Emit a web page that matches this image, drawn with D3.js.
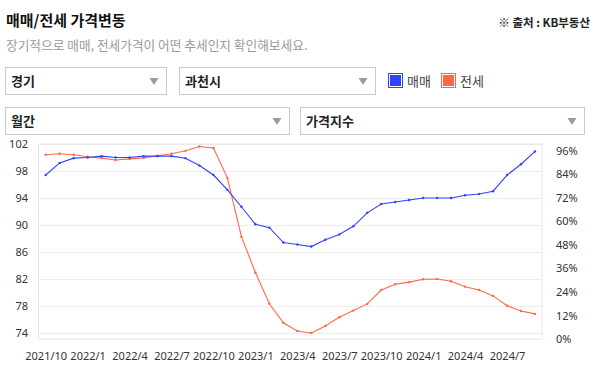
<!DOCTYPE html>
<html>
<head>
<meta charset="utf-8">
<script src="https://cdn.jsdelivr.net/npm/d3@7"></script>
<style>
  body { margin: 0; background: #fff; }
  svg { display: block; font-family: "Noto Sans CJK KR", "Noto Sans", sans-serif; }
</style>
</head>
<body>
<div id="chart-area"></div>
<script>
// months on the x axis (monthly index, 2021/10 ~ 2024/9)
const months = ["2021/10","2021/11","2021/12","2022/1","2022/2","2022/3","2022/4","2022/5","2022/6",
  "2022/7","2022/8","2022/9","2022/10","2022/11","2022/12","2023/1","2023/2","2023/3","2023/4",
  "2023/5","2023/6","2023/7","2023/8","2023/9","2023/10","2023/11","2023/12","2024/1","2024/2",
  "2024/3","2024/4","2024/5","2024/6","2024/7","2024/8","2024/9"];
const tickLabels = ["2021/10","2022/1","2022/4","2022/7","2022/10","2023/1","2023/4","2023/7",
  "2023/10","2024/1","2024/4","2024/7"];

// 매매 (left axis)
const saleIndex = [97.4, 99.2, 99.9, 100.0, 100.2, 100.0, 100.0, 100.2, 100.2, 100.2, 99.9, 98.8,
  97.4, 95.2, 92.7, 90.1, 89.6, 87.4, 87.1, 86.8, 87.8, 88.6, 89.8, 91.8, 93.1, 93.4, 93.7,
  94.0, 94.0, 94.0, 94.4, 94.6, 95.0, 97.4, 99.0, 100.9];
// 전세 (right axis)
const jeonseIndex = [94.0, 94.5, 94.0, 93.0, 92.3, 91.3, 91.9, 92.4, 93.5, 94.5, 96.0, 98.2,
  97.5, 82.1, 52.2, 33.9, 18.0, 8.3, 4.1, 3.1, 6.6, 11.1, 14.5, 17.9, 25.0, 27.9, 29.0,
  30.5, 30.6, 29.5, 26.7, 25.0, 22.0, 17.0, 14.3, 12.8];

const leftTicks = [74, 78, 82, 86, 90, 94, 98, 102];
const rightTicks = [0, 12, 24, 36, 48, 60, 72, 84, 96];

const filters1 = ["경기", "과천시"];
const filters2 = ["월간", "가격지수"];
const legendNames = ["매매", "전세"];

const blue = '#2f42ff';
const orange = '#ff6845';
const fontColor = '#333';

const svg = d3.select("#chart-area").append("svg")
  .attr("width", 599)
  .attr("height", 369);

// header
svg.append("text").attr("x", 6).attr("y", 26)
  .attr("font-size", 15).attr("font-weight", "bold").attr("fill", "#111")
  .text("매매/전세 가격변동");
svg.append("text").attr("x", 6).attr("y", 50)
  .attr("font-size", 12.7).attr("fill", "#9a9a9a")
  .text("장기적으로 매매, 전세가격이 어떤 추세인지 확인해보세요.");
svg.append("text").attr("x", 590).attr("y", 27).attr("text-anchor", "end")
  .attr("font-size", 11.5).attr("font-weight", "bold").attr("fill", "#222")
  .text("※ 출처 : KB부동산");

// dropdowns
function dropdown(x, y, w, label) {
  const g = svg.append("g").attr("transform", `translate(${x},${y})`);
  g.append("rect").attr("x", 0.5).attr("y", 0.5).attr("width", w).attr("height", 27)
    .attr("fill", "#fff").attr("stroke", "#c9c9d1");
  g.append("text").attr("x", 6).attr("y", 19)
    .attr("font-size", 13).attr("font-weight", "bold").attr("fill", "#222").text(label);
  const ax = w - 12;
  g.append("path").attr("d", `M${ax - 4.5},11 L${ax + 4.5},11 L${ax},18 Z`).attr("fill", "#9b9b9b");
}
dropdown(5, 67, 161, filters1[0]);
dropdown(179, 67, 196, filters1[1]);
dropdown(5, 107, 284, filters2[0]);
dropdown(300, 107, 284, filters2[1]);

// legend
const legend = svg.append("g").selectAll("g")
  .data(legendNames).enter().append("g")
  .attr("transform", (d, i) => `translate(${388 + i * 53},73)`);
legend.append("rect").attr("x", 0.5).attr("y", 0.5).attr("width", 14).attr("height", 14)
  .attr("fill", "#fff").attr("stroke", (d, i) => i ? orange : blue);
legend.append("rect").attr("x", 2).attr("y", 2).attr("width", 11).attr("height", 11)
  .attr("fill", (d, i) => i ? orange : blue);
legend.append("text").attr("x", 19).attr("y", 12.5)
  .attr("font-size", 13).attr("fill", "#444").text(d => d);

// chart
const plotLeft = 38.5, plotRight = 542, plotTop = 144, plotBottom = 339;

const x = d3.scalePoint().domain(months).range([45.7, 535]);
const yL = d3.scaleLinear().domain([73.1, 102]).range([plotBottom, plotTop]);
const yR = d3.scaleLinear().domain([0, 100]).range([plotBottom, 143]);

// gridlines
svg.append("g")
  .attr("transform", `translate(${plotLeft},0)`)
  .call(d3.axisLeft(yL).tickValues(leftTicks).tickSize(-(plotRight - plotLeft)).tickFormat(""))
  .call(g => g.select(".domain").remove())
  .call(g => g.selectAll("line").attr("stroke", "#ececec"));

svg.append("rect")
  .attr("x", plotLeft).attr("y", plotTop).attr("width", plotRight - plotLeft).attr("height", plotBottom - plotTop)
  .attr("fill", "none").attr("stroke", "#e6e6e6");

// left axis
svg.append("g")
  .attr("transform", `translate(28,0)`)
  .call(d3.axisLeft(yL).tickValues(leftTicks).tickSize(0).tickPadding(0))
  .call(g => g.select(".domain").remove())
  .call(g => g.selectAll("text").attr("font-size", 11).attr("fill", fontColor)
    .attr("font-family", "'Noto Sans', sans-serif"));

// right axis
svg.append("g")
  .attr("transform", `translate(556,0)`)
  .call(d3.axisRight(yR).tickValues(rightTicks).tickSize(0).tickPadding(0).tickFormat(d => d + "%"))
  .call(g => g.select(".domain").remove())
  .call(g => g.selectAll("text").attr("font-size", 11).attr("fill", fontColor)
    .attr("font-family", "'Noto Sans', sans-serif"));

// bottom axis
svg.append("g")
  .attr("transform", `translate(0,352)`)
  .call(d3.axisBottom(x).tickValues(tickLabels).tickSize(0).tickPadding(0))
  .call(g => g.select(".domain").remove())
  .call(g => g.selectAll("text").attr("font-size", 11).attr("fill", fontColor)
    .attr("font-family", "'Noto Sans', sans-serif"));

// lines
const lineL = d3.line().x((d, i) => x(months[i])).y(d => yL(d));
const lineR = d3.line().x((d, i) => x(months[i])).y(d => yR(d));

svg.append("path").datum(jeonseIndex).attr("d", lineR)
  .attr("fill", "none").attr("stroke", orange).attr("stroke-width", 1.1);
svg.append("g").selectAll("circle").data(jeonseIndex).enter().append("circle")
  .attr("cx", (d, i) => x(months[i])).attr("cy", d => yR(d)).attr("r", 1.2).attr("fill", orange);

svg.append("path").datum(saleIndex).attr("d", lineL)
  .attr("fill", "none").attr("stroke", blue).attr("stroke-width", 1.1);
svg.append("g").selectAll("circle").data(saleIndex).enter().append("circle")
  .attr("cx", (d, i) => x(months[i])).attr("cy", d => yL(d)).attr("r", 1.2).attr("fill", blue);
</script>
</body>
</html>
